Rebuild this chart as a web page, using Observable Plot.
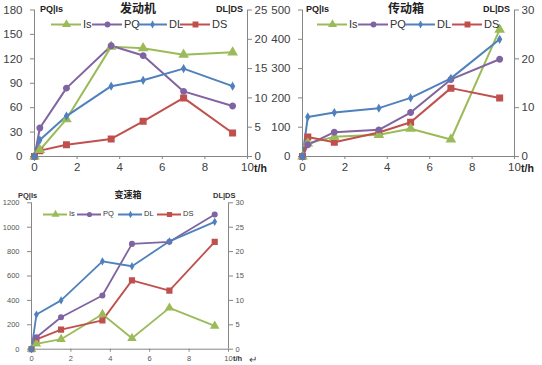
<!DOCTYPE html>
<html><head><meta charset="utf-8">
<script src="https://cdn.jsdelivr.net/npm/d3@7"></script>
<script src="https://cdn.jsdelivr.net/npm/@observablehq/plot@0.6"></script>
<style>
body{margin:0;background:#fff;}
#root{position:relative;width:542px;height:365px;overflow:hidden;background:#fff;font-family:"Liberation Sans",Arial,sans-serif;}
.abs{position:absolute;white-space:nowrap;line-height:1.15;}
.plot{position:absolute;}
</style></head><body><div id="root"></div>
<script>
// ---- data ----
const times = [0, 0.25, 1.5, 3.6, 5.1, 7, 9.3];
const seriesNames = ["Is", "PQ", "DL", "DS"];
const xTicks = [0, 2, 4, 6, 8, 10];

// 发动机
const engTitle = "发动机";
const engIs = [0, 8, 46, 135, 133, 125, 128];
const engPQ = [0, 35, 84, 136, 124, 80, 62];
const engDL = [0, 2.8, 6.9, 12, 13, 15, 12];
const engDS = [0, 1, 2, 3, 6, 10, 4];
const engLeftTicks = [0, 30, 60, 90, 120, 150, 180];
const engRightTicks = [0, 5, 10, 15, 20, 25];

// 传动箱
const trTitle = "传动箱";
const trIs = [0, 45, 67, 74, 95, 58, 433];
const trPQ = [0, 40, 83, 91, 150, 263, 332];
const trDL = [0, 8.1, 9, 9.9, 12, 16, 24];
const trDS = [0, 4, 2.9, 4.9, 7, 14, 12];
const trLeftTicks = [0, 100, 200, 300, 400, 500];
const trRightTicks = [0, 10, 20, 30];

// 变速箱
const gbTitle = "变速箱";
const gbIs = [0, 44, 82, 287, 90, 339, 191];
const gbPQ = [0, 98, 262, 440, 863, 880, 1104];
const gbDL = [0, 7.1, 10, 18, 17, 22.1, 26.1];
const gbDS = [0, 2, 4, 5.9, 14.1, 12, 22];
const gbLeftTicks = [0, 200, 400, 600, 800, 1000, 1200];
const gbRightTicks = [0, 5, 10, 15, 20, 25, 30];

const colors = ["#9BBB59", "#8064A2", "#4F81BD", "#C0504D"];
const symbols = ["triangle", "circle", "diamond", "square"];
const markerSizes = [3, 2.7, 1.9, 3.1];

// ---- drawing ----
const root = document.getElementById("root");

function addText(txt, x, y, css) {
  const d = document.createElement("div");
  d.className = "abs";
  d.textContent = txt;
  d.style.left = x + "px";
  d.style.top = y + "px";
  Object.assign(d.style, css || {});
  root.appendChild(d);
  return d;
}

function addLegend(starts, y, lineLen, fontSize, mscale) {
  seriesNames.forEach((name, i) => {
    const item = document.createElement("div");
    item.className = "abs";
    item.style.left = starts[i] + "px";
    item.style.top = (y - 5) + "px";
    item.style.height = "10px";
    item.style.display = "flex";
    item.style.alignItems = "center";
    item.style.fontSize = fontSize + "px";
    item.style.color = "#333";
    const sw = Plot.plot({
      width: lineLen, height: 10, margin: 0,
      x: {domain: [0, 1], axis: null}, y: {domain: [0, 1], axis: null},
      marks: [
        Plot.ruleY([0.5], {x1: 0, x2: 1, stroke: colors[i], strokeWidth: 2}),
        Plot.dot([0.5], {x: d => d, y: 0.5, r: markerSizes[i] * mscale * 0.8, symbol: symbols[i], fill: colors[i], stroke: colors[i]})
      ]
    });
    sw.style.marginRight = "2px";
    item.appendChild(sw);
    const t = document.createElement("span");
    t.textContent = name;
    item.appendChild(t);
    root.appendChild(item);
  });
}

function makePanel(cfg) {
  const k = cfg.leftMax / cfg.rightMax;
  const rows = [];
  cfg.series.forEach((vals, i) => {
    const scale = i >= 2 ? k : 1;
    vals.forEach((v, j) => rows.push({t: times[j], v: v * scale, s: seriesNames[i], r: markerSizes[i] * cfg.mscale}));
  });
  const axisCol = "#868686";
  const txtCol = cfg.textColor;
  const chart = Plot.plot({
    width: cfg.width, height: cfg.height,
    marginLeft: cfg.ml, marginRight: cfg.mr, marginTop: cfg.mt, marginBottom: cfg.mb,
    style: {fontSize: cfg.fontSize + "px", fontFamily: '"Liberation Sans", Arial, sans-serif', background: "transparent"},
    x: {domain: [0, 10]},
    y: {domain: [0, cfg.leftMax]},
    r: {type: "identity"},
    color: {domain: seriesNames, range: colors},
    symbol: {domain: seriesNames, range: symbols},
    marks: [
      Plot.ruleY([0], {stroke: axisCol}),
      Plot.ruleX([0, 10], {stroke: axisCol}),
      Plot.axisX({ticks: xTicks, tickSize: 3, tickPadding: cfg.xPad, stroke: axisCol, fill: txtCol, label: null, tickFormat: d => String(d)}),
      Plot.axisY({ticks: cfg.leftTicks, tickSize: 4, tickPadding: cfg.lPad, stroke: axisCol, fill: txtCol, label: null, tickFormat: d => String(d)}),
      Plot.axisY({anchor: "right", ticks: cfg.rightTicks.map(v => v * k), tickSize: 4, tickPadding: cfg.rPad, stroke: axisCol, fill: txtCol, label: null, tickFormat: d => String(Math.round(d / k))}),
      Plot.line(rows, {x: "t", y: "v", z: "s", stroke: "s", strokeWidth: cfg.sw}),
      Plot.dot(rows, {x: "t", y: "v", symbol: "s", fill: "s", stroke: "s", r: "r"})
    ]
  });
  chart.classList.add("plot");
  chart.style.left = cfg.left + "px";
  chart.style.top = cfg.top + "px";
  root.appendChild(chart);
}

// 发动机
makePanel({left: 0, top: 0, width: 270, height: 176, ml: 34, mr: 23, mt: 9.5, mb: 20,
  leftMax: 180, rightMax: 25, leftTicks: engLeftTicks, rightTicks: engRightTicks,
  series: [engIs, engPQ, engDL, engDS], fontSize: 11.5, textColor: "#404040",
  xPad: 3, lPad: 8, rPad: 3, sw: 2, mscale: 1});
addText(engTitle, 138, 1, {transform: "translateX(-50%)", fontSize: "12px", fontWeight: "bold", fontFamily: '"Noto Sans CJK SC", sans-serif', color: "#222", lineHeight: "14px"});
addText("PQ|Is", 40, 4, {fontSize: "9px", fontWeight: "bold", color: "#222"});
addText("DL|DS", 216, 4, {fontSize: "9px", fontWeight: "bold", color: "#222"});
addText("t/h", 254, 162, {fontSize: "10.5px", fontWeight: "bold", color: "#222"});
addLegend([51, 92, 137, 180], 24, 30, 11, 1);

// 传动箱
makePanel({left: 270, top: 0, width: 272, height: 176, ml: 32, mr: 28, mt: 9.5, mb: 20,
  leftMax: 500, rightMax: 30, leftTicks: trLeftTicks, rightTicks: trRightTicks,
  series: [trIs, trPQ, trDL, trDS], fontSize: 11.5, textColor: "#404040",
  xPad: 3, lPad: 8, rPad: 3, sw: 2, mscale: 1});
addText(trTitle, 406, 1, {transform: "translateX(-50%)", fontSize: "12px", fontWeight: "bold", fontFamily: '"Noto Sans CJK SC", sans-serif', color: "#222", lineHeight: "14px"});
addText("PQ|Is", 306, 4, {fontSize: "9px", fontWeight: "bold", color: "#222"});
addText("DL|DS", 483, 4, {fontSize: "9px", fontWeight: "bold", color: "#222"});
addText("t/h", 521, 162, {fontSize: "10.5px", fontWeight: "bold", color: "#222"});
addLegend([317, 358, 405, 452], 24, 30, 11, 1);

// 变速箱
makePanel({left: 0, top: 185, width: 260, height: 180, ml: 31, mr: 32, mt: 17.3, mb: 16.3,
  leftMax: 1200, rightMax: 30, leftTicks: gbLeftTicks, rightTicks: gbRightTicks,
  series: [gbIs, gbPQ, gbDL, gbDS], fontSize: 7.5, textColor: "#555",
  xPad: 3, lPad: 8, rPad: 3, sw: 1.8, mscale: 0.85});
addText(gbTitle, 128, 190, {transform: "translateX(-50%)", fontSize: "9px", fontWeight: "bold", fontFamily: '"Noto Sans CJK SC", sans-serif', color: "#222"});
addText("PQ|Is", 18, 192, {fontSize: "7.5px", fontWeight: "bold", color: "#333"});
addText("DL|DS", 213, 192, {fontSize: "7.5px", fontWeight: "bold", color: "#333"});
addText("t/h", 233, 354.5, {fontSize: "7.5px", fontWeight: "bold", color: "#333", lineHeight: "1"});
addLegend([43, 77, 118, 157], 214, 24, 7.5, 0.85);
addText("↵", 249, 354, {fontSize: "10px", color: "#444"});
</script>
</body></html>
